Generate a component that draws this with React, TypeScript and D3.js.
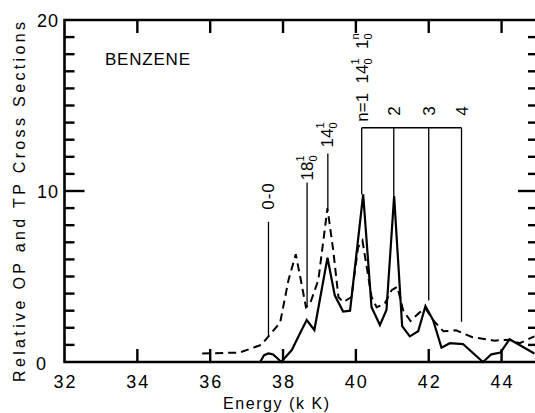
import React from 'react';
import * as d3 from 'd3';

const W = 535;
const H = 413;

// dashed curve (kK, relative cross section)
const dashedEnergy = [35.78, 36.8, 37.4, 37.6, 37.92, 38.15, 38.35, 38.47, 38.63, 38.74, 38.97, 39.22, 39.38, 39.52, 39.65, 39.88, 40.06, 40.18, 40.43, 40.57, 40.79, 40.98, 41.14, 41.3, 41.5, 41.75, 41.92, 42.14, 42.4, 42.75, 43.2, 43.8, 44.2, 44.5, 44.9];
const dashedValue = [0.5, 0.55, 1.0, 1.5, 2.3, 4.8, 6.3, 5.0, 3.2, 3.4, 4.8, 9.0, 6.5, 3.8, 3.5, 3.8, 6.7, 7.1, 3.8, 3.2, 3.4, 4.2, 4.4, 3.0, 2.4, 2.9, 3.1, 2.4, 1.8, 1.85, 1.45, 1.25, 1.3, 1.1, 1.5];

// solid curve
const solidEnergy = [37.37, 37.48, 37.6, 37.72, 37.83, 37.95, 38.24, 38.47, 38.65, 38.86, 39.22, 39.42, 39.65, 39.84, 40.2, 40.43, 40.66, 40.84, 41.05, 41.27, 41.48, 41.71, 41.91, 42.12, 42.35, 42.58, 42.94, 43.49, 43.72, 43.97, 44.22, 44.9];
const solidValue = [0, 0.4, 0.5, 0.45, 0.25, 0, 0.7, 1.7, 2.45, 1.87, 6.1, 3.9, 2.95, 3.0, 9.8, 3.2, 2.16, 3.04, 9.7, 2.1, 1.5, 1.8, 3.27, 2.45, 0.84, 1.1, 1.05, 0, 0.45, 0.55, 1.33, 0.5];

const xTicks = [32, 34, 36, 38, 40, 42, 44];
const yLabels = [0, 10, 20];
const yMinor = [1, 2, 3, 4, 5, 6, 7, 8, 9, 11, 12, 13, 14, 15, 16, 17, 18, 19];

// single assignments: 0-0, 18(1,0), 14(1,0)
const bandEnergy = [37.6, 38.66, 39.23];
const bandTop = [8.2, 10.5, 12.2];
const bandBottom = [1.5, 3.2, 9.0];

// progression n = 1..4
const progEnergy = [40.16, 41.04, 42.0, 42.9];
const progBottom = [9.8, 9.7, 3.6, 2.35];
const progTop = 13.7;
const progLabels = ['2', '3', '4'];

const FONT = '"Liberation Sans", Arial, sans-serif';

const App = () => {
  const x = d3.scaleLinear().domain([32, 45]).range([64.5, 538]);
  const y = d3.scaleLinear().domain([0, 20]).range([362, 20]);

  const toPath = d3
    .line<[number, number]>()
    .x((d) => x(d[0]))
    .y((d) => y(d[1]));
  const dashedPath = toPath(dashedEnergy.map((e, i) => [e, dashedValue[i]]));
  const solidPath = toPath(solidEnergy.map((e, i) => [e, solidValue[i]]));

  const x0 = x(32);
  const x1 = x(45);
  const y0 = y(0);
  const y1 = y(20);

  const S = 11; // script size
  const dw = 0.556 * S; // digit advance of the script font
  const T = 2.4; // tick thickness

  // rotated label helper: bottom end at (cx, yb), reads upward
  const rot = (cx: number, yb: number) => `translate(${cx},${yb}) rotate(-90)`;

  // ticks as filled rects: [x, y, w, h]
  const ticks: [number, number, number, number][] = [];
  yMinor.forEach((v) => {
    ticks.push([x0, y(v) - T / 2, 10, T]);
    ticks.push([x1 - 10, y(v) - T / 2, 10, T]);
  });
  ticks.push([x0, y(10) - T / 2, 20, T]);
  ticks.push([x1 - 20, y(10) - T / 2, 20, T]);
  xTicks.slice(1).forEach((t) => {
    ticks.push([x(t) - T / 2, y0 - 13, T, 13]);
    ticks.push([x(t) - T / 2, y1, T, 13]);
  });

  return (
    <svg
      width={W}
      height={H}
      style={{ position: 'absolute', left: 0, top: 0, background: '#fff' }}
      fontFamily={FONT}
    >
      {/* frame */}
      <path
        d={`M${x0},${y0 + 1}V${y1}H${x1}V${y0}M${x0 - 1},${y0}H${x1}`}
        fill="none"
        stroke="#000"
        strokeWidth={2.6}
      />
      {ticks.map((r, i) => (
        <rect key={i} x={r[0]} y={r[1]} width={r[2]} height={r[3]} fill="#000" />
      ))}

      {/* tick labels */}
      {xTicks.map((t) => (
        <text key={t} x={x(t) + 1} y={388} fontSize={18} textAnchor="middle" letterSpacing={2}>
          {t}
        </text>
      ))}
      {yLabels.map((v) => (
        <text
          key={v}
          x={v === 0 ? 47 : 59}
          y={v === 0 ? 370 : y(v) + 7}
          fontSize={18}
          textAnchor="end"
          letterSpacing={1}
        >
          {v}
        </text>
      ))}

      <text x={276} y={409} fontSize={16} textAnchor="middle" textLength={106} lengthAdjust="spacing">
        Energy (k K)
      </text>
      <text
        transform="translate(25,202) rotate(-90)"
        fontSize={16}
        textAnchor="middle"
        textLength={360}
        lengthAdjust="spacing"
      >
        Relative OP and TP Cross Sections
      </text>
      <text x={105} y={65} fontSize={17} textLength={85} lengthAdjust="spacing">
        BENZENE
      </text>

      {/* assignment lines */}
      {bandEnergy.map((e, i) => (
        <line key={e} x1={x(e)} x2={x(e)} y1={y(bandTop[i])} y2={y(bandBottom[i])} stroke="#000" strokeWidth={1.3} />
      ))}
      {progEnergy.map((e, i) => (
        <line key={e} x1={x(e)} x2={x(e)} y1={y(progTop)} y2={y(progBottom[i])} stroke="#000" strokeWidth={1.3} />
      ))}
      <line
        x1={x(progEnergy[0])}
        x2={x(progEnergy[progEnergy.length - 1])}
        y1={y(progTop)}
        y2={y(progTop)}
        stroke="#000"
        strokeWidth={1.3}
      />

      {/* assignment labels */}
      <g fontSize={17} fill="#000">
        <text transform={rot(x(bandEnergy[0]), y(bandTop[0]) - 12)} y={6} letterSpacing={1}>
          0-0
        </text>
        <text transform={rot(x(bandEnergy[1]), y(bandTop[1]) - 2)} y={6}>
          18
          <tspan fontSize={S} dy={-9}>1</tspan>
          <tspan fontSize={S} dx={-dw} dy={13}>0</tspan>
        </text>
        <text transform={rot(x(bandEnergy[2]) - 1, y(bandTop[2]) - 6)} y={6}>
          14
          <tspan fontSize={S} dy={-9}>1</tspan>
          <tspan fontSize={S} dx={-dw} dy={13}>0</tspan>
        </text>
        <text transform={rot(x(progEnergy[0]), y(progTop) - 6)} y={6} style={{ whiteSpace: 'pre' }}>
          n=1  14
          <tspan fontSize={S} dy={-9}>1</tspan>
          <tspan fontSize={S} dx={-dw} dy={13}>0</tspan>
          <tspan dy={-4}>  1</tspan>
          <tspan fontSize={S} dy={-9}>n</tspan>
          <tspan fontSize={S} dx={-dw} dy={13}>0</tspan>
        </text>
        {progLabels.map((l, i) => (
          <text key={l} transform={rot(x(progEnergy[i + 1]), y(progTop) - 12)} y={6}>
            {l}
          </text>
        ))}
      </g>

      {/* curves */}
      <path d={dashedPath ?? ''} fill="none" stroke="#000" strokeWidth={2} strokeDasharray="8,5" />
      <path d={solidPath ?? ''} fill="none" stroke="#000" strokeWidth={2.2} />
    </svg>
  );
};

export default App;
